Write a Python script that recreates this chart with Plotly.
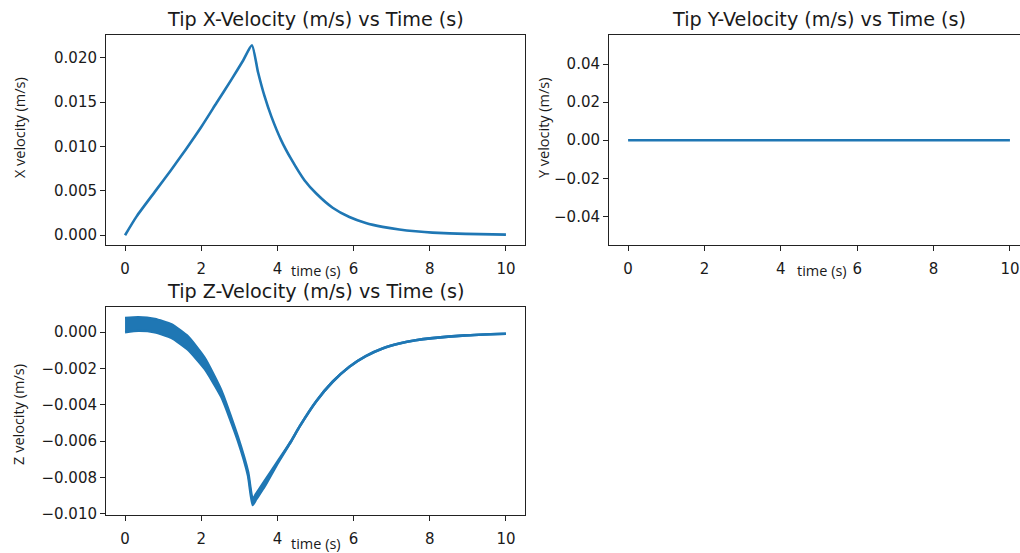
import plotly.graph_objects as go

# ---------------- data ----------------
# Tip X-velocity
tx = [0.0, 0.3, 0.8, 1.2, 1.6, 2.0, 2.4, 2.8, 3.1, 3.33,
      3.49, 3.66, 3.84, 4.10, 4.36, 4.71, 5.02, 5.45, 5.89, 6.32,
      6.76, 7.20, 7.63, 8.07, 8.94, 10.0]
vx = [0.0, 0.0021, 0.0050, 0.0073, 0.0097, 0.0122, 0.0149, 0.0176, 0.0197, 0.0214,
      0.0184, 0.0157, 0.0134, 0.0107, 0.0086, 0.0062, 0.0047, 0.0031, 0.00205, 0.00138,
      0.00094, 0.00064, 0.00044, 0.0003, 0.00015, 0.00007]

# Tip Y-velocity
ty = [0, 1, 2, 3, 4, 5, 6, 7, 8, 9, 10]
vy = [0, 0, 0, 0, 0, 0, 0, 0, 0, 0, 0]

# Tip Z-velocity: upper / lower envelope of the oscillating band
tz = [0.0, 0.35, 0.78, 1.22, 1.65, 2.09, 2.53, 2.96, 3.23, 3.35,
      3.44, 3.66, 4.01, 4.36, 4.58, 5.02, 5.45, 5.89, 6.32, 6.76,
      7.20, 7.63, 8.07, 8.94, 10.0]
vz_upper = [0.00078, 0.00082, 0.00072, 0.00042, -0.00024, -0.00142, -0.00322, -0.00575, -0.0077, -0.0092,
            -0.0089, -0.0082, -0.0071, -0.0060, -0.0052, -0.0038, -0.00273, -0.0019, -0.00132, -0.0009,
            -0.00063, -0.00045, -0.00033, -0.00018, -0.00009]
vz_lower = [0.0, 0.00008, 0.0, -0.00032, -0.00096, -0.00202, -0.00357, -0.00595, -0.0079, -0.0095,
            -0.0092, -0.0085, -0.0072, -0.0060, -0.0052, -0.0038, -0.00273, -0.0019, -0.00132, -0.0009,
            -0.00063, -0.00045, -0.00033, -0.00018, -0.00009]

titles = ["Tip X-Velocity (m/s) vs Time (s)", "Tip Y-Velocity (m/s) vs Time (s)",
          "Tip Z-Velocity (m/s) vs Time (s)"]
ylabels = ["X velocity (m/s)", "Y velocity (m/s)", "Z velocity (m/s)"]
xlabel = "time (s)"

xticks = [0, 2, 4, 6, 8, 10]
xtick_text = ["0", "2", "4", "6", "8", "10"]
y1_ticks = [0.0, 0.005, 0.010, 0.015, 0.020]
y1_text = ["0.000", "0.005", "0.010", "0.015", "0.020"]
y2_ticks = [-0.04, -0.02, 0.0, 0.02, 0.04]
y2_text = ["\u22120.04", "\u22120.02", "0.00", "0.02", "0.04"]
y3_ticks = [-0.010, -0.008, -0.006, -0.004, -0.002, 0.0]
y3_text = ["\u22120.010", "\u22120.008", "\u22120.006", "\u22120.004", "\u22120.002", "0.000"]

# ---------------- figure ----------------
W, H = 1020, 553
BLUE = "#1f77b4"
LW = 2.6

fig = go.Figure()
fig.add_trace(go.Scatter(x=tx, y=vx, mode="lines", line=dict(color=BLUE, width=LW, shape="spline", smoothing=0.6),
                         xaxis="x", yaxis="y", showlegend=False))
fig.add_trace(go.Scatter(x=ty, y=vy, mode="lines", line=dict(color=BLUE, width=LW),
                         xaxis="x2", yaxis="y2", showlegend=False))
fig.add_trace(go.Scatter(x=tz, y=vz_lower, mode="lines", line=dict(color=BLUE, width=LW, shape="spline", smoothing=0.5),
                         xaxis="x3", yaxis="y3", showlegend=False))
fig.add_trace(go.Scatter(x=tz, y=vz_upper, mode="lines", line=dict(color=BLUE, width=LW, shape="spline", smoothing=0.5),
                         fill="tonexty", fillcolor=BLUE, xaxis="x3", yaxis="y3", showlegend=False))

def px_x(p):
    return p / W

def px_y(p):
    return 1 - p / H

tickfont = dict(family="DejaVu Sans", size=15, color="#1a1a1a")
common_x = dict(showline=True, linecolor="#222", linewidth=1, mirror=True, ticks="outside", ticklen=5,
                tickwidth=1, tickcolor="#222", showgrid=False, zeroline=False, tickfont=tickfont,
                tickvals=xticks, ticktext=xtick_text, ticklabelstandoff=5)
common_y = dict(showline=True, linecolor="#222", linewidth=1, mirror=True, ticks="outside", ticklen=5,
                tickwidth=1, tickcolor="#222", showgrid=False, zeroline=False, tickfont=tickfont)

L1, R1 = 106, 525
L2, R2 = 609, 1020
T1, B1 = 36, 248.5
T3, B3 = 312, 523
scale = (R1 - L1) / 11.0
x2_max = 10.5 - (1029 - R2) / scale

fig.update_layout(
    width=W, height=H, margin=dict(l=0, r=0, t=0, b=0),
    paper_bgcolor="white", plot_bgcolor="white",
    xaxis=dict(common_x, domain=[px_x(L1), px_x(R1)], range=[-0.5, 10.5], anchor="y"),
    yaxis=dict(common_y, domain=[px_y(B1), px_y(T1)], range=[-0.00109, 0.02252], anchor="x",
               tickvals=y1_ticks, ticktext=y1_text),
    xaxis2=dict(common_x, domain=[px_x(L2), 1.0], range=[-0.5, x2_max], anchor="y2"),
    yaxis2=dict(common_y, domain=[px_y(B1), px_y(T1)], range=[-0.055, 0.055], anchor="x2",
                tickvals=y2_ticks, ticktext=y2_text, mirror=False),
    xaxis3=dict(common_x, domain=[px_x(L1), px_x(R1)], range=[-0.5, 10.5], anchor="y3"),
    yaxis3=dict(common_y, domain=[px_y(B3), px_y(T3)], range=[-0.01008, 0.001355], anchor="x3",
                tickvals=y3_ticks, ticktext=y3_text),
)

ann = []
title_font = dict(family="DejaVu Sans", size=19.2, color="#1a1a1a")
ann.append(dict(text=titles[0], x=px_x((L1 + R1) / 2), y=px_y(19.5), xref="paper", yref="paper",
                showarrow=False, font=title_font, xanchor="center", yanchor="middle"))
ann.append(dict(text=titles[1], x=px_x(819), y=px_y(19.5), xref="paper", yref="paper",
                showarrow=False, font=title_font, xanchor="center", yanchor="middle"))
ann.append(dict(text=titles[2], x=px_x((L1 + R1) / 2), y=px_y(295.5), xref="paper", yref="paper",
                showarrow=False, font=title_font, xanchor="center", yanchor="middle"))

lab_font = dict(family="Open Sans", size=14.5, color="#1a1a1a")
ann.append(dict(text=ylabels[0], x=px_x(19), y=px_y(130), xref="paper", yref="paper", textangle=-90,
                showarrow=False, font=lab_font, xanchor="center", yanchor="middle"))
ann.append(dict(text=ylabels[1], x=px_x(543), y=px_y(130), xref="paper", yref="paper", textangle=-90,
                showarrow=False, font=lab_font, xanchor="center", yanchor="middle"))
ann.append(dict(text=ylabels[2], x=px_x(19), y=px_y(421), xref="paper", yref="paper", textangle=-90,
                showarrow=False, font=lab_font, xanchor="center", yanchor="middle"))

xl_font = dict(family="Open Sans", size=14.5, color="#1a1a1a")
ann.append(dict(text=xlabel, x=px_x((L1 + R1) / 2), y=px_y(274), xref="paper", yref="paper",
                showarrow=False, font=xl_font, xanchor="center", yanchor="middle"))
ann.append(dict(text=xlabel, x=px_x(822), y=px_y(274), xref="paper", yref="paper",
                showarrow=False, font=xl_font, xanchor="center", yanchor="middle"))
ann.append(dict(text=xlabel, x=px_x((L1 + R1) / 2), y=px_y(551), xref="paper", yref="paper",
                showarrow=False, font=xl_font, xanchor="center", yanchor="middle"))
fig.update_layout(annotations=ann)

fig.write_html("out.html")
